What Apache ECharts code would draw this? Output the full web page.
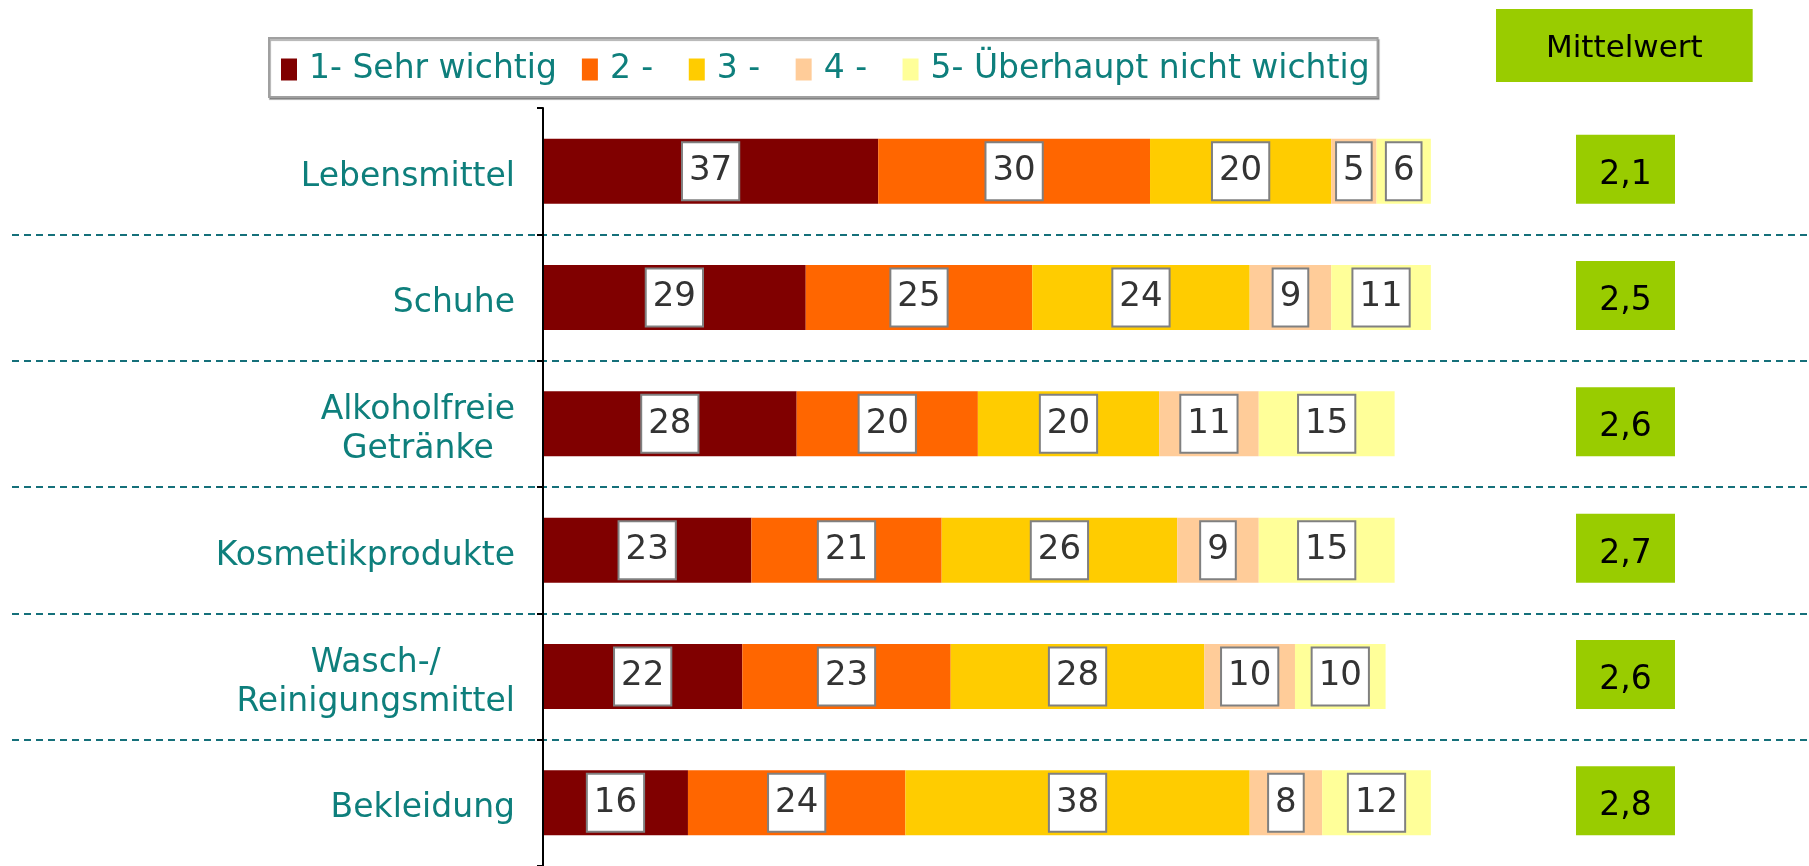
<!DOCTYPE html>
<html>
<head>
<meta charset="utf-8">
<script src="https://cdn.jsdelivr.net/npm/echarts@6/dist/echarts.min.js"></script>
<style>
  html, body { margin: 0; padding: 0; background: #fff; }
  #chart { width: 1809px; height: 866px; }
</style>
</head>
<body>
<div id="chart"></div>
<script>
  // Kategorien (von oben nach unten)
  const categories = ['Lebensmittel', 'Schuhe', 'Alkoholfreie\nGetränke', 'Kosmetikprodukte', 'Wasch-/\nReinigungsmittel', 'Bekleidung'];
  const levelNames = ['1- Sehr wichtig', '2 - ', '3 - ', '4 - ', '5- Überhaupt nicht wichtig'];
  const level1 = [37, 29, 28, 23, 22, 16];
  const level2 = [30, 25, 20, 21, 23, 24];
  const level3 = [20, 24, 20, 26, 28, 38];
  const level4 = [5, 9, 11, 9, 10, 8];
  const level5 = [6, 11, 15, 15, 10, 12];
  const means = [2.1, 2.5, 2.6, 2.7, 2.6, 2.8];

  const colors = ['#800000', '#ff6600', '#ffcc00', '#ffcc99', '#ffff99'];
  const teal = '#0e7f7c';
  const font = 'DejaVu Sans';

  const myChart = echarts.init(document.getElementById('chart'));

  const levels = [level1, level2, level3, level4, level5];
  const barSeries = levels.map(function (vals, i) {
    return {
      name: levelNames[i],
      type: 'bar',
      stack: 'total',
      xAxisIndex: 0,
      yAxisIndex: 0,
      barWidth: 65,
      data: vals,
      itemStyle: { color: colors[i] },
      label: {
        show: true,
        position: 'inside',
        color: '#333',
        fontFamily: font,
        fontSize: 34,
        lineHeight: 40,
        backgroundColor: '#fff',
        borderColor: '#808080',
        borderWidth: 2,
        padding: [15, 6, 1, 6]
      }
    };
  });

  const option = {
    animation: false,
    color: colors,
    title: {
      text: 'Mittelwert',
      left: 1496,
      top: 9,
      backgroundColor: '#99cc00',
      padding: [22, 50, 16, 50],
      textStyle: { fontFamily: font, fontSize: 31, fontWeight: 'normal', color: '#000', lineHeight: 35 }
    },
    legend: {
      data: levelNames,
      left: 269,
      top: 38,
      icon: 'rect',
      itemWidth: 16,
      itemHeight: 22,
      itemGap: 25,
      padding: [15, 8, 11, 12],
      borderColor: '#a0a0a0',
      borderWidth: 2,
      backgroundColor: '#fff',
      shadowColor: 'rgba(0,0,0,0.3)',
      shadowOffsetX: 1,
      shadowOffsetY: 2,
      shadowBlur: 1,
      textStyle: { fontFamily: font, fontSize: 33, color: teal, padding: [0, 0, 0, 7] }
    },
    grid: [
      { left: 543, right: 360, top: 108, bottom: 0 },
      { left: 12, right: 0, top: 108, bottom: 0 },
      { left: 1576, width: 99, top: 108, bottom: 0 }
    ],
    xAxis: [
      { gridIndex: 0, type: 'value', min: 0, max: 100, show: false },
      { gridIndex: 1, type: 'value', min: 0, max: 1, show: false },
      { gridIndex: 2, type: 'value', min: 0, max: 1, show: false }
    ],
    yAxis: [
      {
        gridIndex: 0,
        type: 'category',
        inverse: true,
        data: categories,
        z: 5,
        axisLine: { show: true, lineStyle: { color: '#000', width: 2 } },
        axisTick: { show: true, inside: false, length: 6, lineStyle: { color: '#000', width: 2 } },
        axisLabel: {
          margin: 28,
          padding: [12, 0, 0, 0],
          color: teal,
          fontFamily: font,
          fontSize: 33,
          formatter: function (v) {
            return v.split('\n').map(function (l) { return '{c|' + l + '}'; }).join('\n');
          },
          rich: {
            c: { align: 'center', color: teal, fontFamily: font, fontSize: 33, lineHeight: 39 }
          }
        }
      },
      {
        // nur für die gestrichelten Trennlinien
        gridIndex: 1,
        type: 'value',
        min: 0,
        max: 6,
        interval: 1,
        axisLine: { show: false },
        axisTick: { show: false },
        axisLabel: { show: false },
        splitLine: {
          show: true,
          showMinLine: false,
          showMaxLine: false,
          lineStyle: { color: '#15707a', width: 2, type: [7, 5] }
        }
      },
      {
        gridIndex: 2,
        type: 'category',
        inverse: true,
        data: categories,
        show: false
      }
    ],
    series: barSeries.concat([
      {
        name: 'Mittelwert',
        type: 'scatter',
        xAxisIndex: 2,
        yAxisIndex: 2,
        symbol: 'rect',
        symbolSize: [99, 69],
        symbolOffset: [0, -2],
        itemStyle: { color: '#99cc00', opacity: 1 },
        data: means.map(function (m, i) { return [0.5, i, m]; }),
        label: {
          show: true,
          position: 'inside',
          offset: [0, 6],
          color: '#000',
          fontFamily: font,
          fontSize: 33,
          formatter: function (p) { return p.value[2].toFixed(1).replace('.', ','); }
        }
      }
    ])
  };

  myChart.setOption(option);
</script>
</body>
</html>
